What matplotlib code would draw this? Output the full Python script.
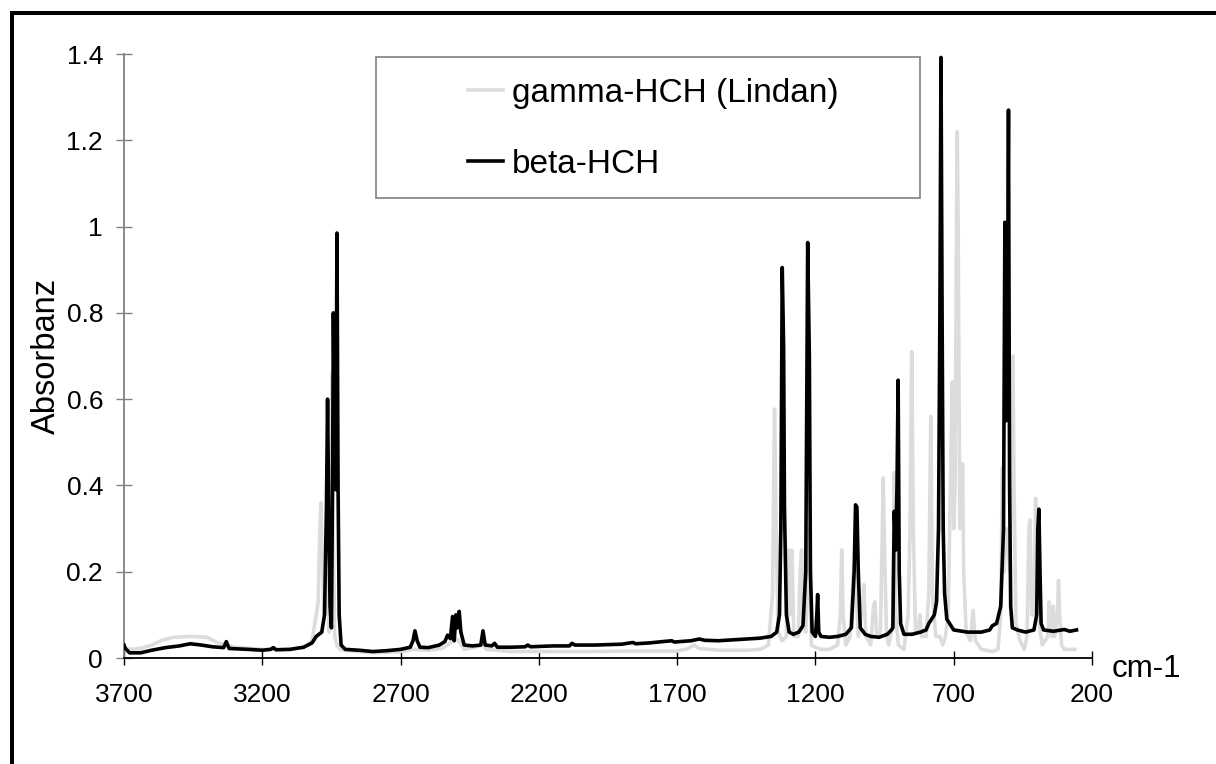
import matplotlib
matplotlib.use("Agg")
import matplotlib.pyplot as plt
from matplotlib.patches import Rectangle
from matplotlib.ticker import FuncFormatter

plt.rcParams['font.family'] = ['Liberation Sans', 'DejaVu Sans']

# ---- data (wavenumber cm-1, absorbance) ----
beta_wn = [3700, 3695, 3680, 3640, 3600, 3550, 3500, 3460, 3420, 3380, 3340, 3330, 3320,
           3250, 3200, 3170, 3160, 3150, 3100, 3050, 3020, 3005, 2995, 2985, 2975, 2968,
           2964, 2960, 2955, 2950, 2946, 2943, 2938, 2934, 2930, 2926, 2922, 2915, 2900,
           2850, 2800, 2750, 2700, 2665, 2655, 2648, 2640, 2630, 2600, 2560, 2540, 2530,
           2520, 2512, 2506, 2500, 2494, 2488, 2482, 2470, 2440, 2410, 2402, 2394, 2370,
           2360, 2350, 2300, 2250, 2240, 2230, 2150, 2090, 2080, 2070, 2000, 1900, 1860,
           1850, 1800, 1720, 1710, 1650, 1620, 1600, 1550, 1500, 1450, 1400, 1360, 1340,
           1330, 1325, 1320, 1315, 1312, 1305, 1295, 1280, 1260, 1245, 1235, 1228, 1222,
           1218, 1212, 1200, 1195, 1192, 1188, 1180, 1150, 1120, 1090, 1070, 1060, 1055,
           1050, 1045, 1038, 1020, 1000, 970, 940, 925, 920, 915, 910, 905, 901, 897, 892,
           880, 850, 820, 800, 790, 780, 770, 762, 755, 750, 746, 742, 738, 733, 725, 715,
           700, 650, 600, 570, 560, 545, 530, 520, 515, 510, 506, 502, 498, 494, 488, 470,
           440, 410, 400, 396, 392, 388, 384, 375, 340, 300, 280, 256]
beta_abs = [0.030, 0.022, 0.012, 0.012, 0.018, 0.024, 0.028, 0.033, 0.030, 0.026, 0.024, 0.038, 0.022,
            0.020, 0.018, 0.020, 0.024, 0.019, 0.020, 0.025, 0.035, 0.050, 0.055, 0.060, 0.100, 0.350,
            0.600, 0.350, 0.120, 0.070, 0.400, 0.800, 0.450, 0.390, 0.985, 0.400, 0.100, 0.030, 0.020,
            0.018, 0.015, 0.017, 0.020, 0.025, 0.040, 0.063, 0.040, 0.025, 0.024, 0.030, 0.038, 0.053,
            0.045, 0.096, 0.040, 0.100, 0.070, 0.108, 0.060, 0.030, 0.028, 0.030, 0.063, 0.030, 0.028,
            0.034, 0.025, 0.025, 0.026, 0.030, 0.026, 0.028, 0.028, 0.034, 0.030, 0.030, 0.032, 0.036,
            0.033, 0.035, 0.040, 0.037, 0.040, 0.044, 0.041, 0.040, 0.042, 0.044, 0.046, 0.050, 0.060,
            0.100, 0.300, 0.905, 0.720, 0.350, 0.100, 0.060, 0.055, 0.060, 0.075, 0.200, 0.963, 0.700,
            0.200, 0.060, 0.050, 0.100, 0.147, 0.060, 0.050, 0.048, 0.050, 0.055, 0.070, 0.200, 0.355,
            0.350, 0.200, 0.070, 0.055, 0.050, 0.048, 0.055, 0.065, 0.070, 0.340, 0.250, 0.400, 0.644, 0.200, 0.080,
            0.055, 0.055, 0.060, 0.065, 0.080, 0.090, 0.100, 0.130, 0.300, 0.800, 1.392, 0.800, 0.300, 0.150, 0.090, 0.080,
            0.065, 0.060, 0.060, 0.065, 0.075, 0.080, 0.120, 0.300, 1.010, 0.550, 0.700, 1.270, 0.400, 0.120, 0.070, 0.065,
            0.060, 0.065, 0.100, 0.300, 0.345, 0.200, 0.080, 0.065, 0.062, 0.066, 0.062, 0.065]

gamma_wn = [3700, 3680, 3640, 3600, 3560, 3520, 3460, 3400, 3360, 3300, 3200, 3100, 3050, 3020,
            3005, 2998, 2992, 2988, 2984, 2978, 2975, 2965, 2958, 2952, 2948, 2944, 2938, 2930,
            2920, 2900, 2800, 2700, 2650, 2600, 2550, 2520, 2500, 2490, 2470, 2400, 2390, 2300,
            2200, 2100, 2000, 1900, 1800, 1700, 1660, 1640, 1620, 1550, 1500, 1450, 1400, 1370,
            1355, 1348, 1342, 1335, 1320, 1305, 1298, 1292, 1285, 1278, 1262, 1255, 1250, 1245,
            1235, 1222, 1215, 1200, 1180, 1150, 1120, 1110, 1105, 1100, 1090, 1075, 1062, 1058,
            1045, 1030, 1025, 1018, 1000, 990, 985, 978, 965, 958, 955, 950, 943, 935, 920, 915,
            910, 900, 880, 865, 858, 852, 846, 838, 828, 822, 816, 800, 790, 783, 777, 765, 750,
            740, 730, 720, 712, 705, 700, 695, 690, 687, 684, 678, 672, 668, 664, 655, 640, 630,
            622, 600, 560, 540, 530, 524, 518, 510, 497, 490, 486, 482, 475, 460, 445, 435, 428,
            424, 418, 410, 404, 400, 395, 380, 360, 355, 350, 345, 340, 335, 325, 321, 317, 310,
            300, 280, 262]
gamma_abs = [0.025, 0.020, 0.022, 0.030, 0.042, 0.048, 0.050, 0.048, 0.035, 0.025, 0.020, 0.020, 0.025, 0.040,
             0.100, 0.130, 0.300, 0.360, 0.250, 0.120, 0.100, 0.200, 0.060, 0.300, 0.660, 0.300, 0.050, 0.030,
             0.020, 0.018, 0.012, 0.015, 0.020, 0.018, 0.022, 0.035, 0.045, 0.040, 0.020, 0.030, 0.020, 0.015,
             0.015, 0.015, 0.015, 0.016, 0.016, 0.016, 0.022, 0.030, 0.022, 0.018, 0.018, 0.018, 0.020, 0.030,
             0.150, 0.577, 0.300, 0.060, 0.040, 0.050, 0.250, 0.100, 0.250, 0.050, 0.050, 0.200, 0.250, 0.080,
             0.060, 0.300, 0.030, 0.025, 0.020, 0.020, 0.030, 0.100, 0.250, 0.100, 0.030, 0.050, 0.200, 0.220,
             0.050, 0.120, 0.170, 0.050, 0.030, 0.120, 0.130, 0.050, 0.060, 0.300, 0.417, 0.250, 0.050, 0.030, 0.080, 0.430,
             0.100, 0.030, 0.020, 0.100, 0.300, 0.710, 0.300, 0.060, 0.060, 0.100, 0.050, 0.050, 0.150, 0.560, 0.150, 0.050, 0.050,
             0.030, 0.050, 0.100, 0.400, 0.640, 0.300, 0.400, 1.000, 1.220, 1.000, 0.300, 0.350, 0.450, 0.200, 0.060, 0.040, 0.110,
             0.040, 0.020, 0.015, 0.020, 0.100, 0.440, 0.200, 0.300, 0.200, 0.500, 0.700, 0.400, 0.080, 0.040, 0.020, 0.050, 0.300,
             0.320, 0.100, 0.100, 0.370, 0.300, 0.100, 0.030, 0.050, 0.130, 0.100, 0.050, 0.120, 0.050, 0.100, 0.180, 0.100, 0.030,
             0.020, 0.020, 0.020]

series_labels = ['gamma-HCH (Lindan)', 'beta-HCH']
x_ticks = [3700, 3200, 2700, 2200, 1700, 1200, 700, 200]
y_ticks = [0, 0.2, 0.4, 0.6, 0.8, 1.0, 1.2, 1.4]

# ---- figure ----
W, H = 1216, 764
fig = plt.figure(figsize=(W / 100, H / 100), dpi=100)
ax = fig.add_axes([124 / W, 1 - 658 / H, (1092 - 124) / W, (658 - 54) / H])

ax.plot(gamma_wn, gamma_abs, color='#dcdcdc', lw=2.6, label=series_labels[0], zorder=2,
        solid_joinstyle='round')
ax.plot(beta_wn, beta_abs, color='black', lw=2.6, label=series_labels[1], zorder=3,
        solid_joinstyle='round')

ax.set_xlim(3700, 200)
ax.set_ylim(0, 1.4)
ax.set_xticks(x_ticks)
ax.set_yticks(y_ticks)
ax.yaxis.set_major_formatter(FuncFormatter(lambda v, p: f'{v:g}'))

for s in ['top', 'right']:
    ax.spines[s].set_visible(False)
ax.spines['left'].set_color('#808080')
ax.spines['left'].set_linewidth(1.3)
ax.spines['bottom'].set_color('black')
ax.spines['bottom'].set_linewidth(1.3)

ax.tick_params(axis='x', direction='inout', length=9.5, width=1.0, color='black',
               labelsize=19, pad=13.5)
ax.tick_params(axis='y', direction='inout', length=11.5, width=1.0, color='#808080',
               labelsize=19, pad=9.3, labelcolor='black')
ax.set_facecolor('white')

fig.text(46 / W, 1 - 356 / H, 'Absorbanz', rotation=90, ha='center', va='center', fontsize=23.5)
fig.text(1112 / W, 1 - 677 / H, 'cm-1', ha='left', va='baseline', fontsize=22.5)

# legend box and entries
fig.patches.append(Rectangle((376 / W, 1 - 198 / H), (920 - 376) / W, (198 - 57) / H,
                             transform=fig.transFigure, fill=False, edgecolor='#808080',
                             lw=1.2, zorder=5))
leg = ax.legend(loc='upper left', bbox_to_anchor=(468 / W, 1 - 78 / H),
                bbox_transform=fig.transFigure, frameon=False, fontsize=24,
                handlelength=1.05, handletextpad=0.27, labelspacing=1.2, borderpad=0,
                borderaxespad=0)
for line in leg.get_lines():
    line.set_linewidth(2.6)

# outer figure border (only left and top visible)
fig.patches.append(Rectangle((12 / W, -0.2), 1.5, 1 - 13 / H + 0.2, transform=fig.transFigure,
                             fill=False, edgecolor='black', lw=2.9, clip_on=False))

fig.savefig('out.png', dpi=100)
